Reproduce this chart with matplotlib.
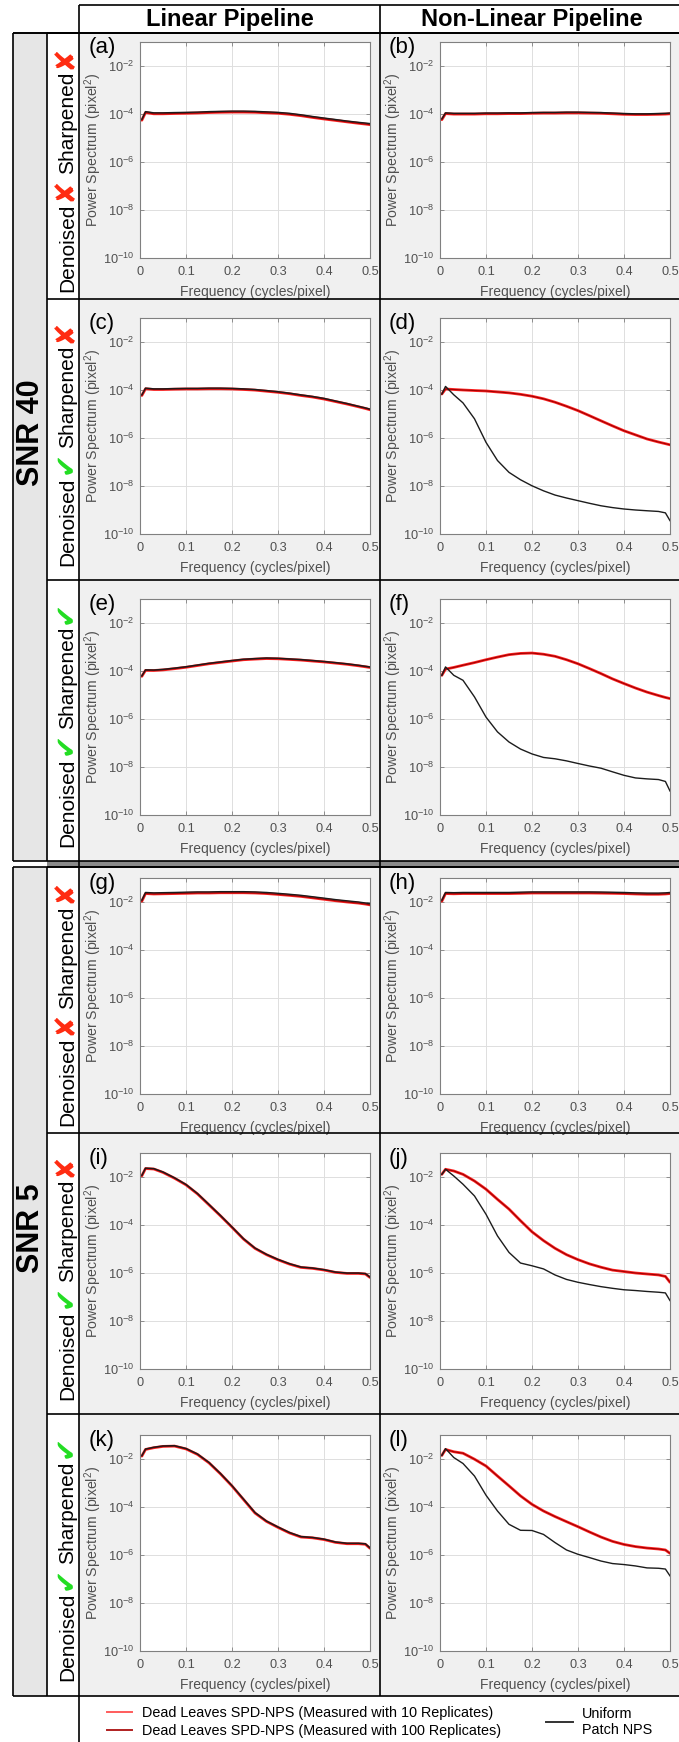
import matplotlib
matplotlib.use("Agg")
import matplotlib.pyplot as plt
from matplotlib.lines import Line2D
from matplotlib.patches import Rectangle
from matplotlib.ticker import NullLocator, FixedLocator

plt.rcParams['font.family'] = ['Liberation Sans', 'DejaVu Sans']
plt.rcParams['mathtext.default'] = 'regular'

# ---------------- data ----------------
freq = [0.004, 0.012, 0.03, 0.05, 0.075, 0.1, 0.125, 0.15, 0.175, 0.2, 0.225, 0.25,
        0.275, 0.3, 0.325, 0.35, 0.375, 0.4, 0.425, 0.45, 0.475, 0.49, 0.5]

# SNR 40, linear, no denoise / no sharpen
a_dl = [5.5e-5, 1.15e-4, 1.02e-4, 1.02e-4, 1.05e-4, 1.07e-4, 1.1e-4, 1.15e-4, 1.18e-4, 1.2e-4, 1.2e-4, 1.18e-4,
        1.12e-4, 1.07e-4, 9.7e-5, 8.5e-5, 7.2e-5, 6.2e-5, 5.4e-5, 4.7e-5, 4.1e-5, 3.8e-5, 3.6e-5]
a_up = [6.0e-5, 1.26e-4, 1.12e-4, 1.12e-4, 1.15e-4, 1.17e-4, 1.2e-4, 1.26e-4, 1.29e-4, 1.32e-4, 1.32e-4, 1.29e-4,
        1.23e-4, 1.17e-4, 1.07e-4, 9.3e-5, 7.9e-5, 6.8e-5, 5.9e-5, 5.1e-5, 4.5e-5, 4.2e-5, 4.0e-5]
# SNR 40, non-linear, no denoise / no sharpen
b_dl = [5.8e-5, 1.04e-4, 9.9e-5, 9.9e-5, 9.9e-5, 1.02e-4, 1.02e-4, 1.04e-4, 1.04e-4, 1.07e-4, 1.09e-4, 1.09e-4,
        1.11e-4, 1.11e-4, 1.09e-4, 1.07e-4, 1.02e-4, 9.7e-5, 9.5e-5, 9.5e-5, 9.7e-5, 9.9e-5, 1.02e-4]
b_up = [6.3e-5, 1.12e-4, 1.07e-4, 1.07e-4, 1.07e-4, 1.1e-4, 1.1e-4, 1.12e-4, 1.12e-4, 1.15e-4, 1.17e-4, 1.17e-4,
        1.2e-4, 1.2e-4, 1.17e-4, 1.15e-4, 1.1e-4, 1.05e-4, 1.02e-4, 1.02e-4, 1.05e-4, 1.07e-4, 1.1e-4]
# SNR 40, linear, denoised
c_dl = [5.9e-5, 1.12e-4, 1.05e-4, 1.05e-4, 1.08e-4, 1.1e-4, 1.1e-4, 1.12e-4, 1.12e-4, 1.1e-4, 1.05e-4, 9.9e-5,
        8.9e-5, 8.0e-5, 7.0e-5, 5.9e-5, 5.1e-5, 4.2e-5, 3.3e-5, 2.6e-5, 2.0e-5, 1.7e-5, 1.5e-5]
c_up = [6.3e-5, 1.2e-4, 1.12e-4, 1.12e-4, 1.15e-4, 1.17e-4, 1.17e-4, 1.2e-4, 1.2e-4, 1.17e-4, 1.12e-4, 1.05e-4,
        9.5e-5, 8.5e-5, 7.4e-5, 6.3e-5, 5.4e-5, 4.5e-5, 3.5e-5, 2.75e-5, 2.1e-5, 1.8e-5, 1.6e-5]
# SNR 40, non-linear, denoised
d_dl = [6.8e-5, 1.1e-4, 1.05e-4, 1.0e-4, 9.5e-5, 9.1e-5, 8.3e-5, 7.6e-5, 6.6e-5, 5.5e-5, 4.3e-5, 3.1e-5,
        2.1e-5, 1.38e-5, 8.5e-6, 5.2e-6, 3.2e-6, 2.0e-6, 1.35e-6, 9.1e-7, 6.8e-7, 5.8e-7, 5.2e-7]
d_up = [6.8e-5, 1.41e-4, 6.3e-5, 2.9e-5, 6.3e-6, 6.6e-7, 1.15e-7, 3.7e-8, 1.82e-8, 1.02e-8, 6.3e-9, 4.2e-9,
        3.16e-9, 2.45e-9, 1.9e-9, 1.5e-9, 1.26e-9, 1.1e-9, 1.0e-9, 9.3e-10, 8.7e-10, 7.6e-10, 3.6e-10]
# SNR 40, linear, denoised + sharpened
e_dl = [6.0e-5, 1.06e-4, 1.05e-4, 1.11e-4, 1.25e-4, 1.43e-4, 1.69e-4, 2.0e-4, 2.28e-4, 2.6e-4, 2.95e-4, 3.13e-4,
        3.3e-4, 3.23e-4, 3.04e-4, 2.85e-4, 2.6e-4, 2.38e-4, 2.13e-4, 1.9e-4, 1.65e-4, 1.5e-4, 1.4e-4]
e_up = [6.3e-5, 1.12e-4, 1.1e-4, 1.17e-4, 1.32e-4, 1.51e-4, 1.78e-4, 2.1e-4, 2.4e-4, 2.75e-4, 3.1e-4, 3.3e-4,
        3.5e-4, 3.4e-4, 3.2e-4, 3.0e-4, 2.75e-4, 2.5e-4, 2.24e-4, 2.0e-4, 1.74e-4, 1.58e-4, 1.48e-4]
# SNR 40, non-linear, denoised + sharpened
f_dl = [6.6e-5, 1.2e-4, 1.41e-4, 1.74e-4, 2.24e-4, 2.95e-4, 3.8e-4, 4.8e-4, 5.4e-4, 5.6e-4, 5.0e-4, 4.1e-4,
        2.95e-4, 2.0e-4, 1.26e-4, 7.8e-5, 4.7e-5, 3.0e-5, 1.95e-5, 1.32e-5, 9.5e-6, 7.9e-6, 7.1e-6]
f_up = [6.6e-5, 1.48e-4, 6.6e-5, 4.1e-5, 8.3e-6, 1.2e-6, 2.9e-7, 1.1e-7, 5.6e-8, 3.5e-8, 2.5e-8, 2.2e-8,
        1.8e-8, 1.4e-8, 1.1e-8, 8.9e-9, 6.3e-9, 4.5e-9, 3.5e-9, 3.2e-9, 3.0e-9, 2.5e-9, 1.0e-9]
# SNR 5, linear, no denoise / no sharpen
g_dl = [1.08e-2, 2.25e-2, 2.16e-2, 2.2e-2, 2.25e-2, 2.3e-2, 2.37e-2, 2.37e-2, 2.43e-2, 2.43e-2, 2.43e-2, 2.37e-2,
        2.25e-2, 2.07e-2, 1.89e-2, 1.71e-2, 1.49e-2, 1.3e-2, 1.13e-2, 1.0e-2, 9.0e-3, 8.2e-3, 7.6e-3]
g_up = [1.2e-2, 2.5e-2, 2.4e-2, 2.45e-2, 2.5e-2, 2.57e-2, 2.63e-2, 2.63e-2, 2.7e-2, 2.7e-2, 2.7e-2, 2.63e-2,
        2.5e-2, 2.3e-2, 2.1e-2, 1.9e-2, 1.66e-2, 1.45e-2, 1.26e-2, 1.12e-2, 1.0e-2, 9.1e-3, 8.5e-3]
# SNR 5, non-linear, no denoise / no sharpen
h_dl = [1.08e-2, 2.25e-2, 2.2e-2, 2.25e-2, 2.25e-2, 2.25e-2, 2.25e-2, 2.25e-2, 2.3e-2, 2.37e-2, 2.37e-2, 2.37e-2,
        2.37e-2, 2.37e-2, 2.37e-2, 2.34e-2, 2.3e-2, 2.25e-2, 2.16e-2, 2.1e-2, 2.1e-2, 2.16e-2, 2.25e-2]
h_up = [1.2e-2, 2.5e-2, 2.45e-2, 2.5e-2, 2.5e-2, 2.5e-2, 2.5e-2, 2.5e-2, 2.57e-2, 2.63e-2, 2.63e-2, 2.63e-2,
        2.63e-2, 2.63e-2, 2.63e-2, 2.6e-2, 2.55e-2, 2.5e-2, 2.4e-2, 2.35e-2, 2.35e-2, 2.4e-2, 2.5e-2]
# SNR 5, linear, denoised
i_dl = [1.12e-2, 2.25e-2, 2.15e-2, 1.55e-2, 8.9e-3, 4.7e-3, 1.97e-3, 6.9e-4, 2.4e-4, 8.0e-5, 2.6e-5, 1.06e-5,
        5.8e-6, 3.55e-6, 2.35e-6, 1.71e-6, 1.56e-6, 1.33e-6, 1.06e-6, 9.6e-7, 9.6e-7, 9.1e-7, 6.5e-7]
i_up = [1.17e-2, 2.35e-2, 2.24e-2, 1.62e-2, 9.3e-3, 4.9e-3, 2.05e-3, 7.2e-4, 2.5e-4, 8.3e-5, 2.7e-5, 1.1e-5,
        6.0e-6, 3.7e-6, 2.45e-6, 1.78e-6, 1.62e-6, 1.38e-6, 1.1e-6, 1.0e-6, 1.0e-6, 9.5e-7, 6.8e-7]
# SNR 5, non-linear, denoised
j_dl = [1.29e-2, 2.1e-2, 1.78e-2, 1.29e-2, 6.8e-3, 3.1e-3, 1.17e-3, 4.6e-4, 1.51e-4, 5.2e-5, 2.24e-5, 1.07e-5,
        5.8e-6, 3.6e-6, 2.4e-6, 1.74e-6, 1.32e-6, 1.15e-6, 1.0e-6, 9.1e-7, 8.3e-7, 7.2e-7, 4.1e-7]
j_up = [1.29e-2, 2.1e-2, 1.1e-2, 5.0e-3, 1.62e-3, 2.8e-4, 3.5e-5, 7.2e-6, 2.6e-6, 2.0e-6, 1.48e-6, 8.3e-7,
        5.4e-7, 4.1e-7, 3.3e-7, 2.7e-7, 2.3e-7, 2.0e-7, 1.86e-7, 1.7e-7, 1.58e-7, 1.48e-7, 7.1e-8]
# SNR 5, linear, denoised + sharpened
k_dl = [1.32e-2, 2.5e-2, 2.95e-2, 3.35e-2, 3.45e-2, 2.63e-2, 1.55e-2, 6.9e-3, 2.4e-3, 7.5e-4, 2.05e-4, 5.6e-5,
        2.5e-5, 1.41e-5, 8.3e-6, 5.6e-6, 5.2e-6, 4.4e-6, 3.35e-6, 2.95e-6, 2.95e-6, 2.8e-6, 1.9e-6]
k_up = [1.38e-2, 2.6e-2, 3.1e-2, 3.5e-2, 3.6e-2, 2.75e-2, 1.62e-2, 7.2e-3, 2.5e-3, 7.8e-4, 2.15e-4, 5.9e-5,
        2.6e-5, 1.48e-5, 8.7e-6, 5.9e-6, 5.4e-6, 4.6e-6, 3.5e-6, 3.1e-6, 3.1e-6, 2.95e-6, 2.0e-6]
# SNR 5, non-linear, denoised + sharpened
l_dl = [1.41e-2, 2.5e-2, 2.0e-2, 1.74e-2, 9.8e-3, 5.1e-3, 1.95e-3, 7.6e-4, 2.9e-4, 1.29e-4, 6.8e-5, 4.0e-5,
        2.45e-5, 1.51e-5, 9.1e-6, 5.6e-6, 3.7e-6, 2.75e-6, 2.24e-6, 1.95e-6, 1.78e-6, 1.62e-6, 1.17e-6]
l_up = [1.41e-2, 2.7e-2, 1.15e-2, 6.5e-3, 1.95e-3, 3.1e-4, 6.8e-5, 1.9e-5, 1.07e-5, 1.05e-5, 7.2e-6, 3.3e-6,
        1.62e-6, 1.07e-6, 7.8e-7, 5.6e-7, 4.4e-7, 4.0e-7, 3.5e-7, 2.9e-7, 2.8e-7, 2.6e-7, 1.35e-7]

panel_letters = ['a', 'b', 'c', 'd', 'e', 'f', 'g', 'h', 'i', 'j', 'k', 'l']
dl_series = [a_dl, b_dl, c_dl, d_dl, e_dl, f_dl, g_dl, h_dl, i_dl, j_dl, k_dl, l_dl]
up_series = [a_up, b_up, c_up, d_up, e_up, f_up, g_up, h_up, i_up, j_up, k_up, l_up]

column_titles = ['Linear Pipeline', 'Non-Linear Pipeline']
snr_labels = ['SNR 40', 'SNR 5']
# (denoised, sharpened) per row within an SNR block
row_flags = [(False, False), (True, False), (True, True)]
x_ticks = [0, 0.1, 0.2, 0.3, 0.4, 0.5]
x_tick_labels = ['0', '0.1', '0.2', '0.3', '0.4', '0.5']
y_ticks = [1e-10, 1e-8, 1e-6, 1e-4, 1e-2]
legend_labels = ['Dead Leaves SPD-NPS (Measured with 10 Replicates)',
                 'Dead Leaves SPD-NPS (Measured with 100 Replicates)',
                 'Uniform\nPatch NPS']

# ---------------- layout (pixels) ----------------
W, H = 679, 1742
fig = plt.figure(figsize=(W / 100, H / 100), dpi=100)
fig.patch.set_facecolor('white')


def fx(x):
    return x / W


def fy(y):
    return 1 - y / H


def rect(x0, y0, x1, y1, color, z=-10):
    fig.add_artist(Rectangle((fx(x0), fy(y1)), fx(x1) - fx(x0), fy(y0) - fy(y1),
                             transform=fig.transFigure, facecolor=color, edgecolor='none', zorder=z))


def hline(y, x0, x1, lw=1.2, color='black'):
    fig.add_artist(Line2D([fx(x0), fx(x1)], [fy(y), fy(y)], transform=fig.transFigure,
                          color=color, lw=lw, zorder=5, solid_capstyle='butt'))


def vline(x, y0, y1, lw=1.2, color='black'):
    fig.add_artist(Line2D([fx(x), fx(x)], [fy(y0), fy(y1)], transform=fig.transFigure,
                          color=color, lw=lw, zorder=5, solid_capstyle='butt'))


X_OUT, X_SNR, X_LAB, X_MID, X_END = 13, 47, 79, 380, 684
Y_HEAD0, Y_HEAD1 = 5, 33
blocks = [(33, 861), (867, 1696)]
snr_label_y = [433, 1228]
row_bounds = [(33, 299), (299, 580), (580, 861), (867, 1133), (1133, 1414), (1414, 1696)]
row_axes_top = [42, 318, 599, 878, 1153, 1435]
col_axes_left = [140, 440]
AX_W, AX_H = 230, 216

# backgrounds
for (b0, b1) in blocks:
    rect(X_OUT, b0, X_SNR, b1, '#e6e6e6')
    rect(X_LAB, b0, X_END, b1, '#f0f0f0')
rect(X_SNR, 861, X_END, 867, '#8a8a8a')

# grid lines of the table
hline(Y_HEAD0, X_LAB, X_END)
hline(Y_HEAD1, X_OUT, X_END)
vline(X_LAB, Y_HEAD0, H)
vline(X_MID, Y_HEAD0, 1696)
for (b0, b1) in blocks:
    vline(X_OUT, b0, b1)
    vline(X_SNR, b0, b1)
    hline(b0, X_OUT, X_END)
    hline(b1, X_OUT, X_END)
for (r0, r1) in row_bounds:
    hline(r0, X_SNR, X_END)

# column titles
for k, title in enumerate(column_titles):
    cx = (X_LAB + X_MID) / 2 if k == 0 else (X_MID + X_END) / 2
    fig.text(fx(cx), fy(26), title, ha='center', va='baseline', fontsize=17,
             fontweight='bold', color='black')

# ---------------- panels ----------------
RED = '#ff2424'
DARKRED = '#a00000'
BLACK = '#1c1c1c'
GRAY = '#505050'

for idx, letter in enumerate(panel_letters):
    r, c = divmod(idx, 2)
    left = col_axes_left[c]
    top = row_axes_top[r]
    ax = fig.add_axes([fx(left), fy(top + AX_H), AX_W / W, AX_H / H])
    ax.set_facecolor('white')
    ax.semilogy(freq, dl_series[idx], color=RED, lw=2.0, solid_capstyle='round')
    ax.semilogy(freq, dl_series[idx], color=DARKRED, lw=0.8)
    ax.semilogy(freq, up_series[idx], color=BLACK, lw=1.0)
    ax.set_xlim(0, 0.5)
    ax.set_ylim(1e-10, 1e-1)
    ax.xaxis.set_major_locator(FixedLocator(x_ticks))
    ax.set_xticklabels(x_tick_labels)
    ax.yaxis.set_major_locator(FixedLocator(y_ticks))
    ax.yaxis.set_minor_locator(NullLocator())
    ax.grid(True, color='#dedede', lw=0.7)
    ax.set_axisbelow(True)
    for s in ax.spines.values():
        s.set_color('#808080')
        s.set_linewidth(0.8)
    ax.tick_params(direction='in', length=3, width=0.6, color='#808080', labelsize=9.2,
                   labelcolor=GRAY, top=True, right=True, pad=4)
    ax.tick_params(axis='x', pad=6)
    ax.set_xlabel('Frequency (cycles/pixel)', fontsize=10, color=GRAY)
    ax.xaxis.set_label_coords(0.5, -0.125)
    ax.xaxis.label.set_va('top')
    ax.set_ylabel('Power Spectrum (pixel$^2$)', fontsize=10.2, color=GRAY)
    ax.yaxis.set_label_coords(-0.205, 0.5)
    ax.yaxis.label.set_va('center')
    ax.text(-0.225, 1.025, '(%s)' % letter, transform=ax.transAxes, ha='left', va='top',
            fontsize=16, color='black')

# ---------------- rotated labels ----------------
renderer = fig.canvas.get_renderer()


def vertical_pieces(center_y, baseline_x, pieces, gap):
    arts, lens = [], []
    for s, color, fam, size, weight in pieces:
        t = fig.text(0, 0, s, rotation=90, rotation_mode='anchor', ha='left', va='baseline',
                     color=color, family=fam, fontsize=size, fontweight=weight, zorder=6)
        bb = t.get_window_extent(renderer=renderer)
        arts.append(t)
        lens.append(bb.height)
    total = sum(lens) + gap * (len(pieces) - 1)
    y = center_y + total / 2
    for t, L in zip(arts, lens):
        t.set_position((fx(baseline_x), fy(y)))
        y -= L + gap


MARK_YES = ('\u2714', '#22dd22')
MARK_NO = ('\u2718', '#ff2a10')
TXT_FAM = ['Liberation Sans', 'DejaVu Sans']
for r, (r0, r1) in enumerate(row_bounds):
    den, sharp = row_flags[r % 3]
    m1 = MARK_YES if den else MARK_NO
    m2 = MARK_YES if sharp else MARK_NO
    pieces = [('Denoised', 'black', TXT_FAM, 15, 'normal'),
              (m1[0], m1[1], ['DejaVu Sans'], 20, 'bold'),
              ('Sharpened', 'black', TXT_FAM, 15, 'normal'),
              (m2[0], m2[1], ['DejaVu Sans'], 20, 'bold')]
    vertical_pieces((r0 + r1) / 2 + 3, 73, pieces, 3)

for b, (b0, b1) in enumerate(blocks):
    fig.text(fx(31), fy(snr_label_y[b]), snr_labels[b], rotation=90, ha='center', va='center',
             rotation_mode='anchor', fontsize=22, fontweight='bold', color='black')

# ---------------- legend ----------------
h_dl10 = Line2D([], [], color='#ff5c5c', lw=1.4)
h_dl100 = Line2D([], [], color='#b02020', lw=1.4)
h_up = Line2D([], [], color='#333333', lw=1.4)
fig.legend([h_dl10, h_dl100], legend_labels[:2], loc='upper left',
           bbox_to_anchor=(fx(107), fy(1706)), frameon=False, fontsize=10.4,
           handlelength=1.75, handletextpad=0.7, labelspacing=0.28,
           borderpad=0, borderaxespad=0)
fig.legend([h_up], legend_labels[2:], loc='center left',
           bbox_to_anchor=(fx(546), fy(1722)), frameon=False, fontsize=10.4,
           handlelength=1.9, handletextpad=0.6, borderpad=0, borderaxespad=0)

fig.savefig('out.png', dpi=100, facecolor='white')
